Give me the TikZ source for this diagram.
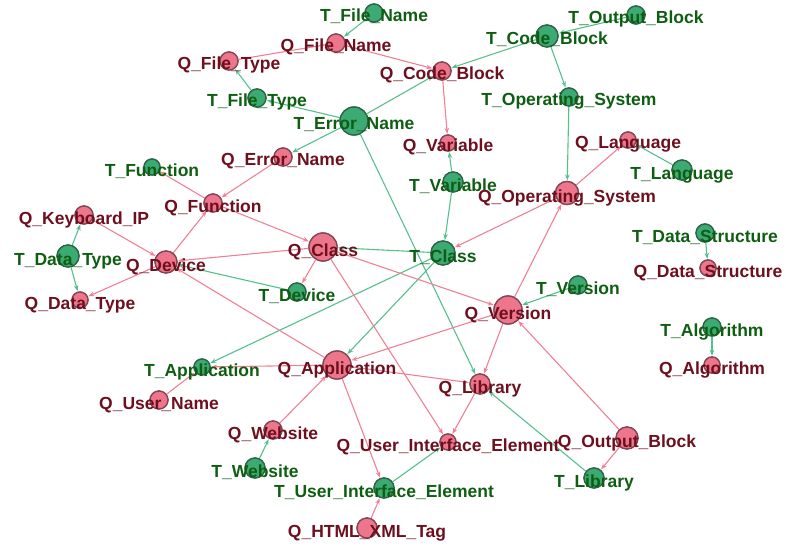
\documentclass[tikz,border=0pt]{standalone}
\usepackage{fontspec}
\setmainfont{Liberation Sans}
\usetikzlibrary{arrows.meta}
\definecolor{qfill}{RGB}{238,118,140}
\definecolor{qdraw}{RGB}{130,70,82}
\definecolor{tfill}{RGB}{60,170,115}
\definecolor{tdraw}{RGB}{45,100,70}
\definecolor{qedge}{RGB}{240,128,150}
\definecolor{tedge}{RGB}{85,192,142}
\definecolor{qtext}{RGB}{110,15,30}
\definecolor{ttext}{RGB}{14,94,18}
\tikzset{
  qn/.style={circle,fill=qfill,draw=qdraw,line width=1.3pt,inner sep=0pt,minimum size=#1},
  tn/.style={circle,fill=tfill,draw=tdraw,line width=1.3pt,inner sep=0pt,minimum size=#1},
  lab/.style={anchor=base,inner sep=0pt,font=\fontsize{17.5}{20}\selectfont\bfseries},
  ql/.style={lab,text=qtext},
  tl/.style={lab,text=ttext},
  qe/.style={draw=qedge,line width=1.1pt,-{Stealth[length=6pt,width=4.5pt]},shorten >=0.5pt},
  te/.style={draw=tedge,line width=1.1pt,-{Stealth[length=6pt,width=4.5pt]},shorten >=0.5pt},
}
\newcommand{\qnode}[4]{\node[qn=#4] (#1) at (#2) {};}
\newcommand{\tnode}[4]{\node[tn=#4] (#1) at (#2) {};}
\begin{document}
\begin{tikzpicture}[x=1pt,y=-1pt]
\useasboundingbox (0,0) rectangle (786,548);
% coordinates of nodes
\begin{scope}[every node/.append style={}]
\tnode{TFileName}{374,13}{}{18pt}
\qnode{QFileName}{336,43}{}{18pt}
\qnode{QFileType}{229,61}{}{18pt}
\tnode{TFileType}{257,98}{}{18pt}
\tnode{TErrorName}{354,121}{}{28pt}
\qnode{QErrorName}{283,157}{}{18pt}
\tnode{TFunction}{152,167}{}{16pt}
\qnode{QFunction}{213,203}{}{18pt}
\qnode{QCodeBlock}{442,71}{}{18pt}
\tnode{TCodeBlock}{547,36}{}{22pt}
\tnode{TOutputBlock}{636,15}{}{18pt}
\tnode{TOperatingSystem}{569,97}{}{18pt}
\qnode{QVariable}{448,143}{}{16pt}
\tnode{TVariable}{453,182}{}{20pt}
\qnode{QLanguage}{628,140}{}{16pt}
\tnode{TLanguage}{682,170}{}{20pt}
\qnode{QOperatingSystem}{567,193}{}{23pt}
\tnode{TDataStructure}{705,233}{}{18pt}
\qnode{QDataStructure}{708,268}{}{16pt}
\tnode{TVersion}{578,285}{}{18pt}
\qnode{QVersion}{508,310}{}{28pt}
\tnode{TClass}{443,253}{}{24pt}
\tnode{TAlgorithm}{712,327}{}{18pt}
\qnode{QAlgorithm}{712,365}{}{16pt}
\qnode{QLibrary}{480,384}{}{20pt}
\qnode{QOutputBlock}{627,438}{}{22pt}
\tnode{TLibrary}{594,478}{}{20pt}
\qnode{QUIE}{448,442}{}{16pt}
\tnode{TUIE}{384,488}{}{20pt}
\qnode{QHTML}{367,528}{}{20pt}
\tnode{TWebsite}{255,468}{}{20pt}
\qnode{QWebsite}{273,430}{}{18pt}
\qnode{QUserName}{159,400}{}{18pt}
\tnode{TApplication}{202,367}{}{16pt}
\qnode{QApplication}{337,365}{}{28pt}
\tnode{TDevice}{297,292}{}{18pt}
\qnode{QClass}{323,247}{}{28pt}
\qnode{QDevice}{166,262}{}{22pt}
\qnode{QDataType}{80,300}{}{16pt}
\qnode{QKeyboardIP}{84,215}{}{18pt}
\tnode{TDataType}{68,256}{}{22pt}
\end{scope}
% edges
\begin{scope}[on background layer/.style={}]
\path[te] (TFileName) -- (QFileName);
\path[te] (TFileType) -- (QFileType);
\path[te] (TErrorName) -- (TFileType);
\path[te] (TErrorName) -- (QErrorName);
\path[te] (TErrorName) -- (QCodeBlock);
\path[te] (TErrorName) -- (QLibrary);
\path[te] (TCodeBlock) -- (QCodeBlock);
\path[te] (TOutputBlock) -- (TCodeBlock);
\path[te] (TCodeBlock) -- (TOperatingSystem);
\path[te] (TOperatingSystem) -- (QOperatingSystem);
\path[te] (TVariable) -- (QVariable);
\path[te] (TVariable) -- (TClass);
\path[te] (TLanguage) -- (QLanguage);
\path[te] (TDataType) -- (QKeyboardIP);
\path[te] (TDataType) -- (QDataType);
\path[te] (TDevice) -- (QDevice);
\path[te] (TClass) -- (QClass);
\path[te] (TClass) -- (TApplication);
\path[te] (TClass) -- (QApplication);
\path[te] (TWebsite) -- (QWebsite);
\path[te] (TUIE) -- (QUIE);
\path[te] (TLibrary) -- (QLibrary);
\path[te] (TVersion) -- (QVersion);
\path[te] (TDataStructure) -- (QDataStructure);
\path[te] (TAlgorithm) -- (QAlgorithm);
\path[qe] (QFileType) -- (QFileName);
\path[qe] (QFileName) -- (QCodeBlock);
\path[qe] (QCodeBlock) -- (QVariable);
\path[qe] (QOperatingSystem) -- (QLanguage);
\path[qe] (QOperatingSystem) -- (TClass);
\path[qe] (QVersion) -- (QOperatingSystem);
\path[qe] (QErrorName) -- (QFunction);
\path[qe] (QFunction) -- (TFunction);
\path[qe] (QFunction) -- (QClass);
\path[qe] (QKeyboardIP) -- (QDevice);
\path[qe] (QDevice) -- (QDataType);
\path[qe] (QDevice) -- (QFunction);
\path[qe] (QClass) -- (QDevice);
\path[qe] (QClass) -- (TDevice);
\path[qe] (QClass) -- (QVersion);
\path[qe] (QClass) -- (QUIE);
\path[qe] (QApplication) -- (QDevice);
\path[qe] (QVersion) -- (QApplication);
\path[qe] (QApplication) -- (TApplication);
\path[qe] (QUserName) -- (TApplication);
\path[qe] (QApplication) -- (QLibrary);
\path[qe] (QWebsite) -- (QApplication);
\path[qe] (QApplication) -- (TUIE);
\path[qe] (QHTML) -- (TUIE);
\path[qe] (QLibrary) -- (QUIE);
\path[qe] (QVersion) -- (QLibrary);
\path[qe] (QOutputBlock) -- (TLibrary);
\path[qe] (QOutputBlock) -- (QVersion);
\end{scope}
% redraw circles over edges
\foreach \n/\s in {QFileName/18pt,QFileType/18pt,QErrorName/18pt,QFunction/18pt,QCodeBlock/18pt,QVariable/16pt,QLanguage/16pt,QOperatingSystem/23pt,QDataStructure/16pt,QVersion/28pt,QAlgorithm/16pt,QLibrary/20pt,QOutputBlock/22pt,QUIE/16pt,QHTML/20pt,QWebsite/18pt,QUserName/18pt,QApplication/28pt,QClass/28pt,QDevice/22pt,QDataType/16pt,QKeyboardIP/18pt}
  {\node[qn=\s] at (\n) {};}
\foreach \n/\s in {TFileName/18pt,TFileType/18pt,TErrorName/28pt,TFunction/16pt,TCodeBlock/22pt,TOutputBlock/18pt,TOperatingSystem/18pt,TVariable/20pt,TLanguage/20pt,TDataStructure/18pt,TVersion/18pt,TClass/24pt,TAlgorithm/18pt,TLibrary/20pt,TUIE/20pt,TWebsite/20pt,TApplication/16pt,TDevice/18pt,TDataType/22pt}
  {\node[tn=\s] at (\n) {};}
% labels
\foreach \n/\t in {TFileName/T\_File\_Name,TFileType/T\_File\_Type,TErrorName/T\_Error\_Name,TFunction/T\_Function,TCodeBlock/T\_Code\_Block,TOutputBlock/T\_Output\_Block,TOperatingSystem/T\_Operating\_System,TVariable/T\_Variable,TLanguage/T\_Language,TDataStructure/T\_Data\_Structure,TVersion/T\_Version,TClass/T\_Class,TAlgorithm/T\_Algorithm,TLibrary/T\_Library,TUIE/T\_User\_Interface\_Element,TWebsite/T\_Website,TApplication/T\_Application,TDevice/T\_Device,TDataType/T\_Data\_Type}
  {\node[tl] (\n-l) at ([yshift=-9pt]\n.center) {\t};}
\foreach \n/\t in {QFileName/Q\_File\_Name,QFileType/Q\_File\_Type,QErrorName/Q\_Error\_Name,QFunction/Q\_Function,QCodeBlock/Q\_Code\_Block,QVariable/Q\_Variable,QLanguage/Q\_Language,QOperatingSystem/Q\_Operating\_System,QDataStructure/Q\_Data\_Structure,QVersion/Q\_Version,QAlgorithm/Q\_Algorithm,QLibrary/Q\_Library,QOutputBlock/Q\_Output\_Block,QUIE/Q\_User\_Interface\_Element,QHTML/Q\_HTML\_XML\_Tag,QWebsite/Q\_Website,QUserName/Q\_User\_Name,QApplication/Q\_Application,QClass/Q\_Class,QDevice/Q\_Device,QDataType/Q\_Data\_Type,QKeyboardIP/Q\_Keyboard\_IP}
  {\node[ql] (\n-l) at ([yshift=-9pt]\n.center) {\t};}
\end{tikzpicture}
\end{document}
